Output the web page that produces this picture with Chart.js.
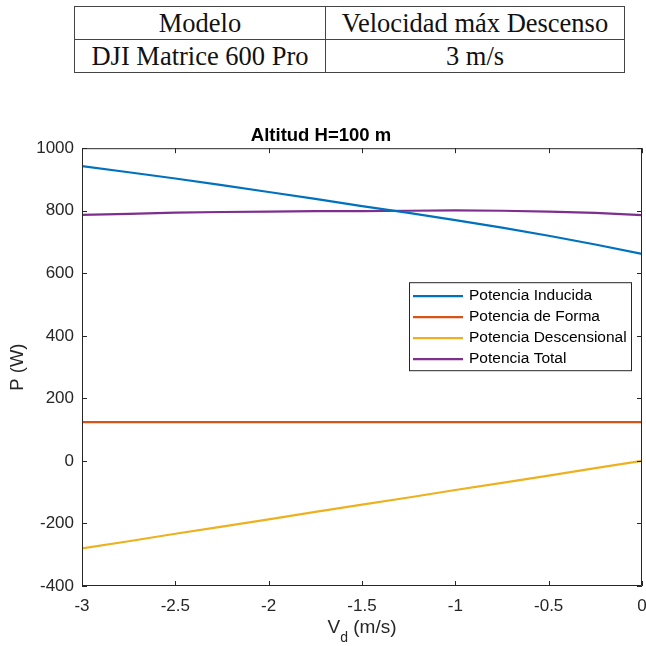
<!DOCTYPE html>
<html>
<head>
<meta charset="utf-8">
<script src="https://cdn.jsdelivr.net/npm/chart.js@4.4.0/dist/chart.umd.min.js"></script>
<style>
  body { margin: 0; background: #fff; width: 646px; height: 646px; overflow: hidden; position: relative; }
  table { position: absolute; left: 74px; top: 6px; width: 551px; border-collapse: collapse;
    font-family: "Liberation Serif", "DejaVu Serif", serif; font-size: 26.5px; color: #111; }
  td { border: 1px solid #444; text-align: center; height: 32px; padding: 0; line-height: 30px; }
  #wrap { position: absolute; left: 0; top: 100px; width: 646px; height: 546px; }
</style>
</head>
<body>
<table>
  <tr><td style="width:250px">Modelo</td><td>Velocidad máx Descenso</td></tr>
  <tr><td>DJI Matrice 600 Pro</td><td>3 m/s</td></tr>
</table>
<div id="wrap"><canvas id="myChart" width="646" height="546"></canvas></div>
<script>
// velocidad de descenso (m/s)
var vd = [-3, -2.75, -2.5, -2.25, -2, -1.75, -1.5, -1.25, -1, -0.75, -0.5, -0.25, 0];
// potencias (W)
var pInducida = [943, 923, 903, 882, 860, 838, 815, 793, 770, 746, 720, 692, 662];
var pForma = [124, 124, 124, 124, 124, 124, 124, 124, 124, 124, 124, 124, 124];
var pDescensional = [-280, -257, -233, -210, -187, -163, -140, -117, -93, -70, -47, -23, 0];
var pTotal = [787, 790, 794, 796, 797, 799, 799, 800, 801, 800, 797, 793, 786];
var names = ["Potencia Inducida", "Potencia de Forma", "Potencia Descensional", "Potencia Total"];
var xTicks = [-3, -2.5, -2, -1.5, -1, -0.5, 0];
var yTicks = [-400, -200, 0, 200, 400, 600, 800, 1000];

const colors = ["#0072BD", "#D95319", "#EDB120", "#7E2F8E"];
const axisColor = "#262626";
const sans = "'Liberation Sans', Arial, sans-serif";

function toPoints(ys) {
  return ys.map((y, i) => ({ x: vd[i], y: y }));
}

const series = [pInducida, pForma, pDescensional, pTotal];
const datasets = series.map((s, i) => ({
  label: names[i],
  data: toPoints(s),
  borderColor: colors[i],
  backgroundColor: colors[i],
  borderWidth: 2.2,
  pointRadius: 0,
  tension: 0,
}));

// caja, ticks hacia dentro, leyenda y etiqueta del eje x
const matlabAxes = {
  id: "matlabAxes",
  afterDraw(chart) {
    const ctx = chart.ctx;
    const a = chart.chartArea;
    const xs = chart.scales.x, ys = chart.scales.y;
    ctx.save();
    ctx.strokeStyle = axisColor;
    ctx.lineWidth = 1;
    ctx.beginPath();
    ctx.rect(a.left + 0.5, a.top + 0.5, a.right - a.left - 1, a.bottom - a.top - 1);
    xTicks.forEach(v => {
      const px = Math.round(xs.getPixelForValue(v)) + 0.5;
      ctx.moveTo(px, a.bottom); ctx.lineTo(px, a.bottom - 5);
      ctx.moveTo(px, a.top); ctx.lineTo(px, a.top + 5);
    });
    yTicks.forEach(v => {
      const py = Math.round(ys.getPixelForValue(v)) + 0.5;
      ctx.moveTo(a.left, py); ctx.lineTo(a.left + 5, py);
      ctx.moveTo(a.right, py); ctx.lineTo(a.right - 5, py);
    });
    ctx.stroke();

    // leyenda
    const bx = a.right - 233, by = a.top + 134, bw = 222, bh = 88;
    ctx.fillStyle = "#fff";
    ctx.fillRect(bx, by, bw, bh);
    ctx.strokeRect(bx + 0.5, by + 0.5, bw, bh);
    ctx.font = "15.5px " + sans;
    ctx.textBaseline = "middle";
    ctx.textAlign = "left";
    names.forEach((n, i) => {
      const yy = by + 14 + i * 21;
      ctx.strokeStyle = colors[i];
      ctx.lineWidth = 2.2;
      ctx.beginPath();
      ctx.moveTo(bx + 4, yy); ctx.lineTo(bx + 54, yy);
      ctx.stroke();
      ctx.fillStyle = "#000";
      ctx.fillText(n, bx + 60, yy);
    });

    // V_d (m/s)
    const cx = (a.left + a.right) / 2;
    const base = a.bottom + 47;
    ctx.fillStyle = axisColor;
    ctx.textBaseline = "alphabetic";
    ctx.font = "19px " + sans;
    const w1 = ctx.measureText("V").width;
    const w3 = ctx.measureText(" (m/s)").width;
    ctx.font = "14px " + sans;
    const w2 = ctx.measureText("d").width;
    let x0 = cx - (w1 + w2 + w3) / 2;
    ctx.font = "19px " + sans;
    ctx.fillText("V", x0, base);
    ctx.font = "14px " + sans;
    ctx.fillText("d", x0 + w1, base + 9);
    ctx.font = "19px " + sans;
    ctx.fillText(" (m/s)", x0 + w1 + w2, base);
    ctx.restore();
  },
};

const config = {
  type: "line",
  data: { datasets: datasets },
  options: {
    responsive: false,
    animation: false,
    layout: { padding: { left: 0, right: 4, top: 0, bottom: 0 } },
    plugins: {
      legend: { display: false },
      tooltip: { enabled: false },
      title: {
        display: true,
        text: "Altitud H=100 m",
        color: "#000",
        font: { family: sans, size: 18.5, weight: "bold", lineHeight: 1.2 },
        padding: { top: 25, bottom: 1 },
      },
    },
    scales: {
      x: {
        type: "linear",
        min: -3,
        max: 0,
        grid: { display: false, drawTicks: false },
        border: { display: false },
        ticks: {
          stepSize: 0.5,
          padding: 10,
          maxRotation: 0,
          color: axisColor,
          font: { family: sans, size: 17 },
          callback: v => String(v),
        },
        afterFit(scale) {
          scale.height = 60;
          scale.paddingLeft = 0;
          scale.paddingRight = 0;
        },
      },
      y: {
        min: -400,
        max: 1000,
        grid: { display: false, drawTicks: false },
        border: { display: false },
        ticks: {
          stepSize: 200,
          padding: 8,
          color: axisColor,
          font: { family: sans, size: 17 },
          callback: v => String(v),
        },
        title: {
          display: true,
          text: "P (W)",
          color: axisColor,
          font: { family: sans, size: 18.5 },
          padding: { top: 7, bottom: 0 },
        },
        afterFit(scale) {
          scale.width = 82;
          scale.paddingTop = 0;
          scale.paddingBottom = 0;
        },
      },
    },
  },
  plugins: [matlabAxes],
};

const myChart = new Chart(document.getElementById("myChart"), config);
</script>
</body>
</html>
